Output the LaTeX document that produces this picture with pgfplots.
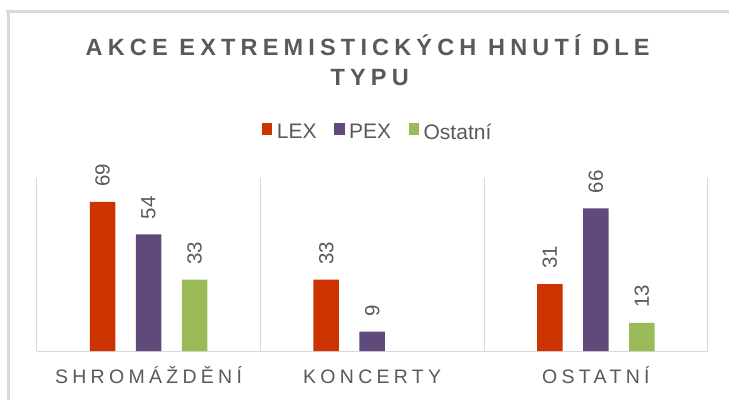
\documentclass[border=0pt]{standalone}
\usepackage{pgfplots}
\pgfplotsset{compat=1.18}
\usepackage{fontspec}
\setmainfont{Liberation Sans}
\newfontfamily\titlefont[LetterSpace=22]{Liberation Sans}
\newfontfamily\catfont[LetterSpace=22]{Liberation Sans}
\definecolor{lex}{HTML}{CC3300}
\definecolor{pex}{HTML}{604A7B}
\definecolor{ost}{HTML}{9BBB59}
\definecolor{txt}{HTML}{595959}
\definecolor{grd}{HTML}{D9D9D9}
\begin{document}
\begin{tikzpicture}
\path[use as bounding box] (-36.7bp,-49bp) rectangle (692.3bp,351bp);
\draw[grd, line width=2.5bp] (-30.7bp,339.7bp) -- (692.3bp,339.7bp);
\draw[grd, line width=2.5bp] (-28.2bp,341bp) -- (-28.2bp,-49bp);
\begin{axis}[
  at={(0,0)}, anchor=south west,
  scale only axis, width=671bp, height=172.8bp,
  xmin=-0.5, xmax=2.5, ymin=0, ymax=80,
  ybar=20.5bp, bar width=25.5bp,
  axis y line=none,
  axis x line*=bottom,
  x axis line style={draw=grd, line width=1bp},
  xtick={0,1,2},
  xticklabels={SHROMÁŽDĚNÍ,KONCERTY,OSTATNÍ},
  major tick length=0,
  minor xtick={-0.5,0.5,1.5,2.5},
  xminorgrids, minor tick length=0,
  minor x grid style={draw=grd, line width=0.9bp},
  xticklabel style={font=\catfont\fontsize{19.5bp}{23bp}\selectfont, text=txt, anchor=base, yshift=-32bp},
  /pgf/number format/assume math mode=true,
  nodes near coords,
  nodes near coords style={font=\fontsize{20.5bp}{24bp}\selectfont, text=txt, rotate=90, anchor=west, inner xsep=15bp},
  legend columns=3,
  legend style={at={(0.507,1.285)}, anchor=center, draw=none, fill=none,
    font=\fontsize{21bp}{25bp}\selectfont,
    nodes={inner sep=0.5bp, text=txt},
    column sep=4bp,
    /tikz/every even column/.append style={column sep=17bp}},
  legend image code/.code={\fill[#1, draw=none] (0bp,-2.5bp) rectangle (10.5bp,9bp); \path (0bp,16bp);},
  clip=false,
]
\addplot[fill=lex, draw=none] coordinates {(0,69) (1,33) (2,31)};
\addplot[fill=pex, draw=none] coordinates {(0,54) (1,9) (2,66)};
\addplot[fill=ost, draw=none] coordinates {(0,33) (2,13)};
\legend{LEX,PEX,Ostatní}
\end{axis}
\node[anchor=base, font=\titlefont\bfseries\fontsize{23.5bp}{27bp}\selectfont, text=txt] at (331bp,295bp) {AKCE EXTREMISTICKÝCH HNUTÍ DLE};
\node[anchor=base, font=\titlefont\bfseries\fontsize{23.5bp}{27bp}\selectfont, text=txt] at (333bp,265bp) {TYPU};
\end{tikzpicture}
\end{document}
